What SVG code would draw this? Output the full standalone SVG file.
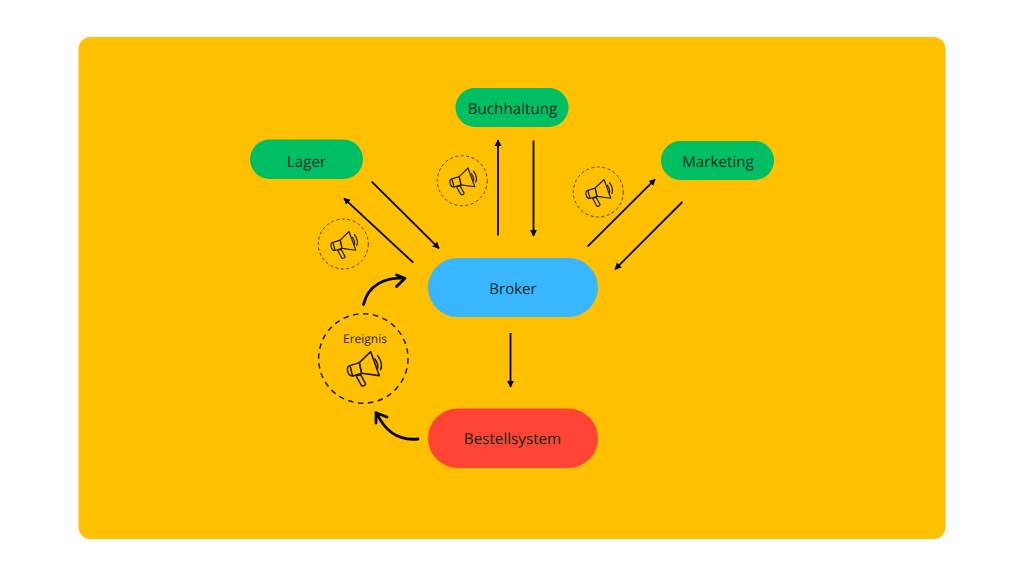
<svg xmlns="http://www.w3.org/2000/svg" width="1024" height="576" viewBox="0 0 1024 576">
<style>
.lbl{font-family:"Open Sans","Noto Sans",sans-serif;fill:#0a2a20;text-anchor:middle;text-rendering:geometricPrecision}
.s{font-size:15.200px}
.a{stroke:#000;stroke-width:1.800;fill:none;marker-end:url(#h)}
.c{stroke:#000;stroke-width:2.800;fill:none;stroke-linecap:round;stroke-linejoin:round}
.ring{fill:none;stroke:#4a3f10}
.ic{fill:none;stroke:#1d1a08;stroke-width:4.600;stroke-linejoin:round;stroke-linecap:round}
</style>
<defs>
<marker id="h" markerUnits="userSpaceOnUse" markerWidth="8" markerHeight="8" refX="6" refY="3.500" orient="auto"><path d="M0 0L6.500 3.500L0 7Z" fill="#000"/></marker>
<g id="mega" class="ic">
<path d="M-12-17L22-50L48 22L-5 15Z"/>
<path d="M-40-8L-12-17L-5 15L-32 23Z"/>
<path d="M-40-8Q-50-6-47 8Q-44 24-32 23"/>
<path d="M-22 22L-8 19L7 47Q4 54-5 53Z"/>
<path d="M35-28Q46-12 43 0"/>
<path d="M43-38Q60-15 52 4"/>
</g>
</defs>
<rect width="1024" height="576" fill="#fff"/>
<rect x="78.500" y="37" width="867" height="502" rx="12" fill="#ffc000"/>
<g id="connectors">
<path class="a" d="M413.300 262.700L344 198.300"/>
<path class="a" d="M371.700 181.700L439 248.300"/>
<path class="a" d="M498 235.500V140"/>
<path class="a" d="M533.500 140.500V236"/>
<path class="a" d="M587.700 246.300L655 179.300"/>
<path class="a" d="M682.300 202L615 269.300"/>
<path class="a" d="M510.500 333V387"/>
<path class="c" d="M363.500 304.500C368 285 385 277 404.500 278.300M396.500 275L405 278.300L396.500 286.500"/>
<path class="c" d="M418 439C399 441 385 431 376.500 413M376 423L376 412.700L387 417"/>
</g>
<g id="buchhaltung"><rect x="455.500" y="88" width="113" height="39" rx="19.500" fill="#00bf63"/><text class="lbl s" x="512.500" y="113.500">Buchhaltung</text></g>
<g id="lager"><rect x="250" y="139.500" width="113" height="39.500" rx="19.700" fill="#00bf63"/><text class="lbl s" x="306.500" y="166.500">Lager</text></g>
<g id="marketing"><rect x="661" y="141" width="113" height="39" rx="19.500" fill="#00bf63"/><text class="lbl s" x="718" y="166.500">Marketing</text></g>
<g id="broker"><rect x="428" y="258" width="170" height="59" rx="29.500" fill="#38b6ff"/><text class="lbl" font-size="15" x="513" y="293.500">Broker</text></g>
<g id="bestellsystem"><rect x="428" y="408.500" width="170" height="59.500" rx="29.700" fill="#ff4436"/><text class="lbl s" x="512.500" y="444">Bestellsystem</text></g>
<g id="event-lager"><circle class="ring" cx="343.300" cy="244" r="25" stroke-width="1" stroke-dasharray="3 2.500"/><use href="#mega" transform="translate(343.300 244.500) scale(.26)"/></g>
<g id="event-buchhaltung"><circle class="ring" cx="462.300" cy="180.700" r="25" stroke-width="1" stroke-dasharray="3 2.500"/><use href="#mega" transform="translate(462.300 181) scale(.26)"/></g>
<g id="event-marketing"><circle class="ring" cx="598.300" cy="192" r="25" stroke-width="1" stroke-dasharray="3 2.500"/><use href="#mega" transform="translate(598.300 192.500) scale(.26)"/></g>
<g id="ereignis"><circle cx="363.300" cy="358.500" r="44.700" fill="none" stroke="#1d1a08" stroke-width="1.500" stroke-dasharray="5.500 4.500"/><text class="lbl" font-size="12" style="fill:#2a2608" x="365" y="343">Ereignis</text><use href="#mega" transform="translate(363.300 368.300) scale(.3333)"/></g>
</svg>
